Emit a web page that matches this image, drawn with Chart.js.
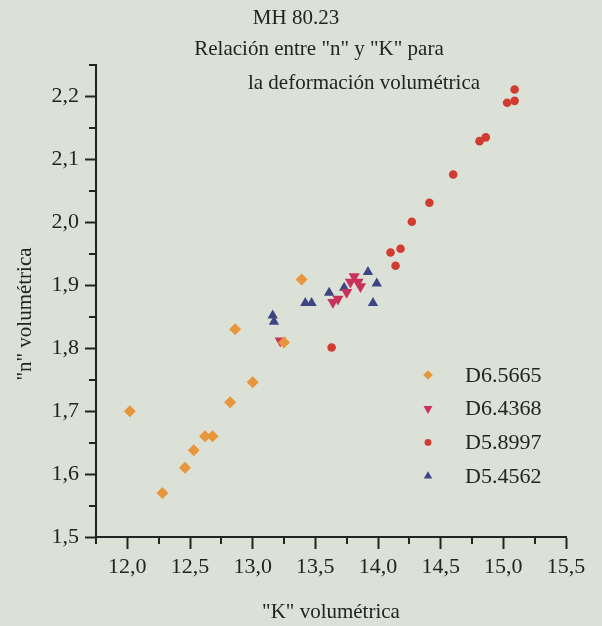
<!DOCTYPE html>
<html>
<head>
<meta charset="utf-8">
<script src="https://cdn.jsdelivr.net/npm/chart.js@4.4.0/dist/chart.umd.min.js"></script>
<style>
  body { margin: 0; background: #dbe1d7; }
  #wrap { width: 602px; height: 626px; }
</style>
</head>
<body>
<div id="wrap"><canvas id="myChart" width="602" height="626"></canvas></div>
<script>
var titulo = ['MH 80.23', 'Relación entre "n" y "K" para', 'la deformación volumétrica'];
var ejeX = '"K" volumétrica';
var ejeY = '"n" volumétrica';
var xTicks = [12.0, 12.5, 13.0, 13.5, 14.0, 14.5, 15.0, 15.5];
var yTicks = [1.5, 1.6, 1.7, 1.8, 1.9, 2.0, 2.1, 2.2];

// D6.5665
var k65665 = [12.02, 12.28, 12.46, 12.53, 12.62, 12.68, 12.82, 12.86, 13.00, 13.25, 13.39];
var n65665 = [1.700, 1.570, 1.610, 1.638, 1.660, 1.660, 1.714, 1.830, 1.746, 1.809, 1.909];
// D6.4368
var k64368 = [13.22, 13.64, 13.68, 13.75, 13.78, 13.81, 13.84, 13.86];
var n64368 = [1.812, 1.873, 1.878, 1.889, 1.905, 1.914, 1.905, 1.898];
// D5.8997
var k58997 = [13.63, 14.10, 14.14, 14.18, 14.27, 14.41, 14.60, 14.81, 14.86, 15.03, 15.09, 15.09];
var n58997 = [1.801, 1.952, 1.931, 1.958, 2.001, 2.031, 2.076, 2.129, 2.135, 2.190, 2.193, 2.211];
// D5.4562
var k54562 = [13.16, 13.17, 13.42, 13.47, 13.61, 13.73, 13.92, 13.99, 13.96];
var n54562 = [1.852, 1.842, 1.872, 1.872, 1.888, 1.896, 1.921, 1.903, 1.872];

var FUENTE = 'Liberation Serif';
var TINTA = '#232323';

function puntos(ks, ns) {
  return ks.map(function (k, i) { return { x: k, y: ns[i] }; });
}

function coma(v) {
  return v.toFixed(1).replace('.', ',');
}

// titulos, ejes secundarios y leyenda
var extras = {
  id: 'extras',
  afterDraw: function (chart) {
    var ctx = chart.ctx;
    var xs = chart.scales.x, ys = chart.scales.y;
    ctx.save();
    ctx.fillStyle = TINTA;
    ctx.textAlign = 'center';
    ctx.textBaseline = 'alphabetic';
    ctx.font = '21px ' + FUENTE;
    ctx.fillText(titulo[0], 296, 24);
    ctx.fillText(titulo[1], 319, 55);
    ctx.fillText(titulo[2], 364, 89);

    ctx.font = '21px ' + FUENTE;
    ctx.textBaseline = 'middle';
    ctx.fillText(ejeX, 331, 612);
    ctx.save();
    ctx.translate(25, 314);
    ctx.rotate(-Math.PI / 2);
    ctx.fillText(ejeY, 0, 0);
    ctx.restore();

    // marcas menores
    ctx.strokeStyle = TINTA;
    ctx.lineWidth = 2;
    ctx.beginPath();
    xTicks.forEach(function (v) {
      var px = Math.round(xs.getPixelForValue(v - 0.25));
      ctx.moveTo(px, xs.top);
      ctx.lineTo(px, xs.top + 7);
    });
    yTicks.forEach(function (v) {
      var py = Math.round(ys.getPixelForValue(v + 0.05));
      ctx.moveTo(ys.right, py);
      ctx.lineTo(ys.right - 7, py);
    });
    ctx.stroke();

    // leyenda
    ctx.textAlign = 'left';
    ctx.font = '22px ' + FUENTE;
    chart.data.datasets.forEach(function (ds, i) {
      var y = 375 + i * 33.7;
      ctx.fillStyle = ds.backgroundColor;
      ctx.strokeStyle = ds.backgroundColor;
      Chart.helpers.drawPoint(ctx, {
        pointStyle: ds.pointStyle,
        rotation: ds.rotation || 0,
        radius: ds.pointRadius * 0.8,
        borderWidth: 0
      }, 428, y);
      ctx.fillStyle = TINTA;
      ctx.fillText(ds.label, 465, y + 1);
    });
    ctx.restore();
  }
};

var ctx = document.getElementById('myChart');
var chart = new Chart(ctx, {
  type: 'scatter',
  data: {
    datasets: [{
      label: 'D6.5665',
      data: puntos(k65665, n65665),
      backgroundColor: '#e8963c',
      borderColor: '#e8963c',
      pointStyle: 'rectRot',
      pointRadius: 6,
      borderWidth: 0
    }, {
      label: 'D6.4368',
      data: puntos(k64368, n64368),
      backgroundColor: '#c8325a',
      borderColor: '#c8325a',
      pointStyle: 'triangle',
      rotation: 180,
      pointRotation: 180,
      pointRadius: 6.5,
      borderWidth: 0
    }, {
      label: 'D5.8997',
      data: puntos(k58997, n58997),
      backgroundColor: '#d03c32',
      borderColor: '#d03c32',
      pointStyle: 'circle',
      pointRadius: 4.3,
      borderWidth: 0
    }, {
      label: 'D5.4562',
      data: puntos(k54562, n54562),
      backgroundColor: '#3c4682',
      borderColor: '#3c4682',
      pointStyle: 'triangle',
      pointRadius: 6,
      borderWidth: 0
    }]
  },
  options: {
    responsive: false,
    animation: false,
    layout: { padding: { top: 65, right: 36, left: 0, bottom: 0 } },
    plugins: {
      legend: { display: false },
      title: { display: false },
      tooltip: { enabled: false }
    },
    scales: {
      x: {
        type: 'linear',
        min: 11.75,
        max: 15.5,
        afterBuildTicks: function (s) { s.ticks = xTicks.map(function (v) { return { value: v }; }); },
        afterFit: function (s) { s.height = 89; },
        ticks: { callback: function (v) { return coma(v); }, color: TINTA, font: { family: FUENTE, size: 22 }, padding: 5, maxRotation: 0 },
        grid: { drawOnChartArea: false, drawTicks: true, tickLength: 12, tickColor: TINTA, tickWidth: 2 },
        border: { color: TINTA, width: 2 }
      },
      y: {
        type: 'linear',
        min: 1.5,
        max: 2.25,
        afterBuildTicks: function (s) { s.ticks = yTicks.map(function (v) { return { value: v }; }); },
        afterFit: function (s) { s.width = 96; },
        ticks: { callback: function (v) { return coma(v); }, color: TINTA, font: { family: FUENTE, size: 22 }, padding: 6 },
        grid: { drawOnChartArea: false, drawTicks: true, tickLength: 11, tickColor: TINTA, tickWidth: 2 },
        border: { color: TINTA, width: 2 }
      }
    }
  },
  plugins: [extras]
});
</script>
</body>
</html>
